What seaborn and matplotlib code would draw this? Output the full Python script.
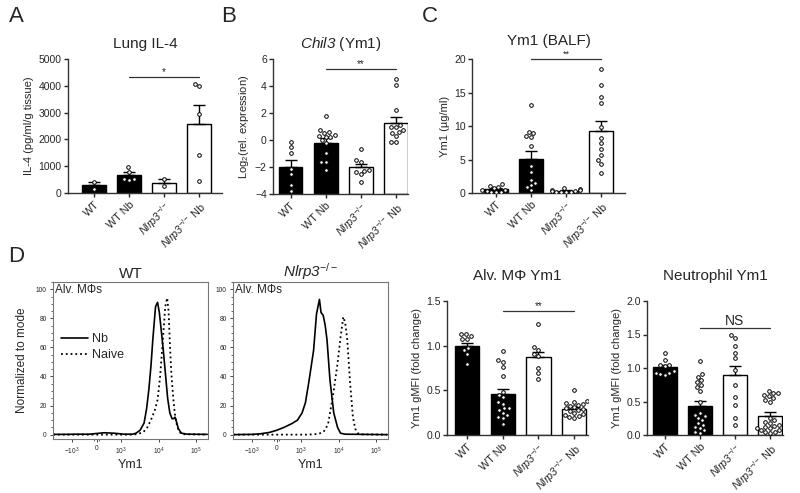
import warnings
import numpy as np
import pandas as pd
import seaborn as sns
import matplotlib.pyplot as plt
from matplotlib.ticker import MultipleLocator

warnings.filterwarnings("ignore")

sns.set_style("ticks")
plt.rcParams['font.family'] = ['Liberation Sans', 'DejaVu Sans']
plt.rcParams['mathtext.fontset'] = 'custom'
plt.rcParams['mathtext.rm'] = 'Liberation Sans'
plt.rcParams['mathtext.it'] = 'Liberation Sans:italic'
plt.rcParams['mathtext.sf'] = 'Liberation Sans:italic'  # italic digits too
plt.rcParams['mathtext.bf'] = 'Liberation Sans:bold'

groups = ['WT', 'WT Nb', 'Nlrp3', 'Nlrp3 Nb']
group_labels = ['WT', 'WT Nb', r'$\mathsf{Nlrp3}^{\mathrm{-/-}}$',
                r'$\mathsf{Nlrp3}^{\mathrm{-/-}}$ Nb']
bar_colors = ['black', 'black', 'white', 'white']

# A: lung IL-4 (pg/ml/g tissue)
il4_mean = [290, 670, 390, 2560]
il4_sem = [120, 110, 140, 720]
il4_points = [[420, 160],
              [970, 800, 520, 510, 500],
              [540, 260],
              [4060, 3980, 2960, 1420, 440]]

# B: Chil3 log2 relative expression
chil3_mean = [-1.98, -0.24, -2.02, 1.26]
chil3_sem = [0.48, 0.37, 0.26, 0.44]
chil3_points = [[-0.13, -0.55, -0.97, -2.15, -2.5, -3.3, -3.8],
                [1.78, 0.72, 0.57, 0.55, 0.37, 0.26, 0.24, 0.22, 0.0, -0.2, -0.96, -1.6, -1.62, -2.22],
                [-0.67, -1.48, -1.6, -2.25, -2.3, -2.4, -2.52, -3.09],
                [4.5, 4.07, 2.22, 1.11, 0.99, 0.97, 0.74, 0.57, 0.55, 0.3, -0.13, -0.15]]

# C: Ym1 in BALF (ug/ml)
balf_mean = [0.55, 5.03, 0.35, 9.3]
balf_sem = [0.13, 1.2, 0.07, 1.5]
balf_points = [[1.3, 1.1, 0.9, 0.7, 0.5, 0.4, 0.3, 0.2, 0.1, 0.1],
               [13.2, 9.15, 8.9, 8.5, 8.3, 7.0, 4.1, 3.1, 1.9, 1.5, 1.2, 0.85, 0.5],
               [0.7, 0.6, 0.5, 0.4, 0.3, 0.3, 0.2, 0.2, 0.1, 0.1],
               [18.5, 16.1, 14.4, 13.4, 9.8, 8.2, 7.4, 6.5, 5.7, 4.9, 4.4, 3.0]]

# D: alveolar macrophage Ym1 gMFI (fold change)
alv_mean = [1.0, 0.46, 0.87, 0.29]
alv_sem = [0.03, 0.06, 0.06, 0.02]
alv_points = [[1.13, 1.13, 1.11, 1.08, 1.08, 0.97, 0.95, 0.91, 0.80],
              [0.94, 0.84, 0.82, 0.76, 0.66, 0.48, 0.45, 0.42, 0.37, 0.35, 0.30, 0.30,
               0.28, 0.25, 0.22, 0.20, 0.19, 0.12],
              [1.24, 0.98, 0.95, 0.91, 0.88, 0.75, 0.69, 0.63],
              [0.50, 0.38, 0.37, 0.36, 0.35, 0.34, 0.33, 0.31, 0.30, 0.29, 0.28, 0.27,
               0.25, 0.23, 0.22, 0.21, 0.20, 0.19]]

# D: neutrophil Ym1 gMFI (fold change)
neu_mean = [1.01, 0.43, 0.89, 0.29]
neu_sem = [0.03, 0.08, 0.14, 0.05]
neu_points = [[1.22, 1.12, 1.05, 1.04, 1.03, 0.95, 0.93, 0.92, 0.91, 0.90],
              [1.10, 0.91, 0.87, 0.82, 0.79, 0.75, 0.71, 0.66, 0.49, 0.33, 0.30, 0.28,
               0.25, 0.22, 0.18, 0.15, 0.12, 0.10, 0.07, 0.05, 0.03],
              [1.49, 1.45, 1.33, 1.23, 1.15, 0.97, 0.75, 0.56, 0.45, 0.25, 0.15],
              [0.65, 0.63, 0.62, 0.60, 0.58, 0.55, 0.52, 0.50, 0.25, 0.22, 0.20, 0.18,
               0.15, 0.14, 0.12, 0.10, 0.10, 0.08, 0.07, 0.05, 0.04, 0.03]]

# D: flow histograms (Ym1 fluorescence vs % of mode)
wt_nb_x = [-3200, -1500, -800, -300, 0, 300, 700, 1200, 2000, 2500, 3200, 4100, 4800,
           5500, 6300, 7000, 8300, 9400, 10500, 12000, 13400, 15500, 17500, 20000,
           22900, 25500, 27500, 30000, 34000, 41000, 60000, 200000]
wt_nb_y = [0.2, 0.2, 0.3, 0.3, 0.8, 1.3, 1.0, 0.3, 0.3, 1, 3, 8, 18, 31, 48, 65, 88, 91,
           84, 70, 58, 40, 25, 15, 11, 11, 12, 9, 4, 1, 0.3, 0.2]
wt_naive_x = [-3200, 2000, 2900, 4000, 5000, 6240, 8000, 9420, 11000, 12600, 15100,
              17000, 18500, 20300, 22000, 24200, 27000, 30700, 35000, 41200, 200000]
wt_naive_y = [0, 0, 0.5, 2, 5, 10, 17, 24, 40, 60, 88, 94, 85, 60, 42, 28, 15, 7, 2.5,
              0.3, 0]
ko_nb_x = [-3200, -1000, -700, -300, 0, 300, 610, 850, 1060, 1300, 1600, 2150, 2570,
           3080, 3400, 3890, 4400, 4920, 5870, 7430, 9400, 11300, 15000, 200000]
ko_nb_y = [0, 0.2, 0.5, 1.5, 3, 5, 7.5, 10, 15, 22, 36, 58, 83, 93, 84, 82, 75, 65, 38,
           15, 5, 1, 0.3, 0]
ko_naive_x = [-3200, 1500, 2900, 4000, 5220, 7020, 9400, 11300, 13400, 15000, 17000,
              20300, 24200, 28000, 32500, 40000, 200000]
ko_naive_y = [0, 0, 0.5, 2, 7, 26, 49, 67, 81, 77, 66, 36, 12, 4, 1, 0.2, 0]

flow_ticks = [-1e3, 0, 1e3, 1e4, 1e5]
flow_tick_labels = [r'$-10^{3}$', '0', r'$10^{3}$', r'$10^{4}$', r'$10^{5}$']

fig = plt.figure(figsize=(8, 4.93), dpi=100)
W, H = 800, 493


def axes_px(left, top, right, bottom):
    return fig.add_axes([left / W, 1 - bottom / H, (right - left) / W, (bottom - top) / H])


def bar_panel(ax, means, sems, points, ylim, yticks, xlim, ylabel, title, sig,
              fmt=None, title_pad=8):
    base = ylim[0]
    means = np.asarray(means, dtype=float)
    ax.bar(range(4), means - base, bottom=base, width=0.68, color=bar_colors,
           edgecolor='black', linewidth=1, zorder=1)
    ax.errorbar(range(4), means, yerr=[np.zeros(4), sems], fmt='none', ecolor='black',
                elinewidth=1, capsize=4, capthick=1, zorder=2)
    df = pd.DataFrame({'group': np.repeat(groups, [len(p) for p in points]),
                       'value': np.concatenate(points)})
    sns.swarmplot(data=df, x='group', y='value', order=groups, color='white',
                  edgecolor='black', linewidth=0.7, size=2.6, ax=ax, zorder=3)
    ax.set_ylim(*ylim)
    ax.set_yticks(yticks)
    if fmt:
        ax.set_yticklabels([fmt.format(t) for t in yticks])
    ax.set_xlim(*xlim)
    ax.set_xticks(range(4))
    ax.set_xticklabels(group_labels, rotation=45, ha='right', rotation_mode='anchor',
                       fontsize=7.8)
    ax.tick_params(axis='y', labelsize=7.5, length=3, width=1, pad=1.5)
    ax.tick_params(axis='x', length=3, width=1, pad=1.5)
    ax.set_xlabel('')
    ax.set_ylabel(ylabel, fontsize=8, labelpad=3)
    ax.set_title(title, fontsize=11, pad=title_pad)
    for s in ['top', 'right']:
        ax.spines[s].set_visible(False)
    for s in ['left', 'bottom']:
        ax.spines[s].set_linewidth(1)
        ax.spines[s].set_color('#333333')
    y, txt, fs = sig
    ax.plot([1, 3], [y, y], color='#333333', lw=0.9, clip_on=False)
    ax.text(2, y, txt, ha='center', va='bottom', fontsize=fs, linespacing=0.8)


def flow_panel(ax, nb_x, nb_y, naive_x, naive_y, title, ylabel, legend):
    sns.lineplot(x=nb_x, y=nb_y, color='black', lw=1.2, sort=False, ax=ax,
                 label='Nb' if legend else None)
    sns.lineplot(x=naive_x, y=naive_y, color='black', lw=1.3, linestyle=':', sort=False,
                 ax=ax, label='Naive' if legend else None)
    ax.set_xscale('symlog', linthresh=1000, linscale=0.59)
    ax.set_xlim(-3250, 2.1e5)
    ax.set_ylim(-3, 105)
    ax.set_xticks(flow_ticks)
    ax.set_xticklabels(flow_tick_labels)
    ax.set_yticks([0, 20, 40, 60, 80, 100])
    ax.yaxis.set_minor_locator(MultipleLocator(5))
    ax.tick_params(axis='both', labelsize=4.8, length=2.5, width=0.6, pad=2)
    ax.tick_params(axis='both', which='minor', length=1.5, width=0.5)
    for s in ax.spines.values():
        s.set_visible(True)
        s.set_color('#777777')
        s.set_linewidth(0.8)
    ax.set_xlabel('Ym1', fontsize=9, labelpad=2)
    ax.set_ylabel(ylabel, fontsize=8.5, labelpad=6)
    ax.set_title(title, fontsize=11, pad=3)
    ax.text(0.015, 0.985, 'Alv. MΦs', transform=ax.transAxes, ha='left', va='top',
            fontsize=8.5)
    if legend:
        ax.legend(loc='upper left', bbox_to_anchor=(0.0, 0.72), frameon=False,
                  fontsize=9, handlelength=2.2, handletextpad=0.3, labelspacing=0.3,
                  borderaxespad=0.2)
    elif ax.get_legend() is not None:
        ax.get_legend().remove()


ax_a = axes_px(68, 59, 222, 193)
bar_panel(ax_a, il4_mean, il4_sem, il4_points, (0, 5000), [0, 1000, 2000, 3000, 4000, 5000],
          (-0.74, 3.66), 'IL-4 (pg/ml/g tissue)', 'Lung IL-4', (4330, '*', 7))

ax_b = axes_px(273, 59, 408, 194)
bar_panel(ax_b, chil3_mean, chil3_sem, chil3_points, (-4, 6), [-4, -2, 0, 2, 4, 6],
          (-0.5, 3.35), r'Log$_2$(rel. expression)', r'$\mathsf{Chil3}$ (Ym1)',
          (5.26, '**', 7))

ax_c = axes_px(472, 59, 625, 193)
bar_panel(ax_c, balf_mean, balf_sem, balf_points, (0, 20), [0, 5, 10, 15, 20],
          (-0.69, 3.69), 'Ym1 (µg/ml)', 'Ym1 (BALF)', (20.0, '**', 6.5), title_pad=10)

ax_wt = axes_px(53, 282, 208, 439)
flow_panel(ax_wt, wt_nb_x, wt_nb_y, wt_naive_x, wt_naive_y, 'WT', 'Normalized to mode', True)

ax_ko = axes_px(233, 282, 388, 439)
flow_panel(ax_ko, ko_nb_x, ko_nb_y, ko_naive_x, ko_naive_y,
           r'$\mathsf{Nlrp3}^{\mathrm{-/-}}$', '', False)

ax_alv = axes_px(447, 301, 588, 435)
bar_panel(ax_alv, alv_mean, alv_sem, alv_points, (0, 1.5), [0, 0.5, 1.0, 1.5],
          (-0.56, 3.39), 'Ym1 gMFI (fold change)', 'Alv. MΦ Ym1', (1.39, '**', 7),
          fmt='{:.1f}', title_pad=15)

ax_neu = axes_px(647, 301, 783, 435)
bar_panel(ax_neu, neu_mean, neu_sem, neu_points, (0, 2.0), [0, 0.5, 1.0, 1.5, 2.0],
          (-0.51, 3.37), 'Ym1 gMFI (fold change)', 'Neutrophil Ym1', (1.60, 'NS', 10),
          fmt='{:.1f}', title_pad=15)

for letter, x, y in [('A', 16, 17), ('B', 229, 17), ('C', 430, 17), ('D', 16, 257)]:
    fig.text(x / W, 1 - y / H, letter, ha='center', va='center', fontsize=16)

fig.savefig('out.png', dpi=100)
plt.close(fig)
